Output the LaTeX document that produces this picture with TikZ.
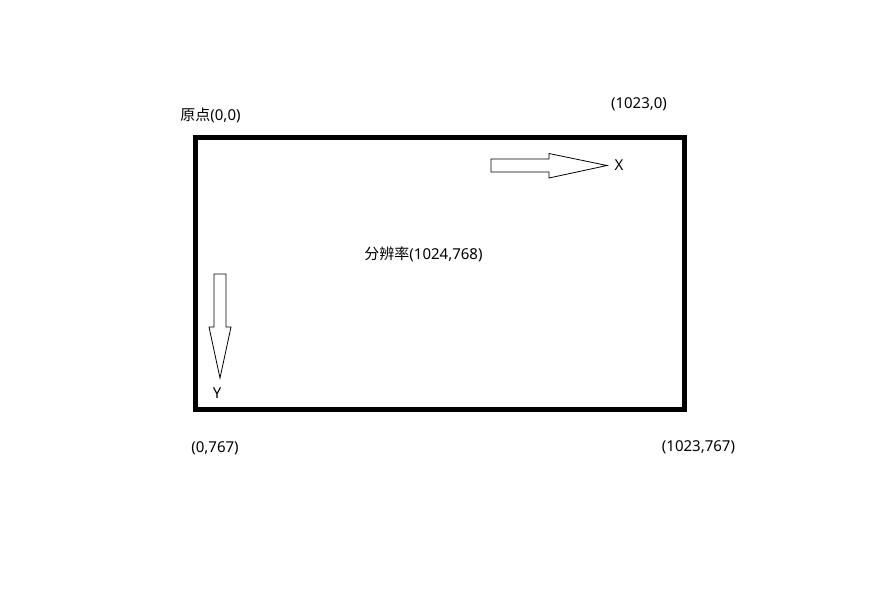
\documentclass[tikz,border=0pt]{standalone}
\usepackage{fontspec}
\setmainfont{Noto Sans}
\newfontfamily\cjk{Noto Sans CJK SC}
\begin{document}
\begin{tikzpicture}[x=1pt,y=-1pt,
  lbl/.style={font=\fontsize{15}{17}\selectfont, inner sep=0pt, text=black},
  hollowarrow/.style={draw=black, line width=0.8pt, fill=white, line join=miter}]
\useasboundingbox (0,0) rectangle (884,611);
\fill[white] (0,0) rectangle (884,611);
\draw[line width=5pt] (195.5,137.5) rectangle (684.5,409.5);
% X arrow
\draw[hollowarrow] (491,159) -- (549,159) -- (549,153.5) -- (607,165.5) -- (549,178) -- (549,172) -- (491,172) -- cycle;
\coordinate (xtip) at (607,165.5);
% Y arrow
\draw[hollowarrow] (214,274) -- (226,274) -- (226,327) -- (231,327) -- (220,378) -- (209,327) -- (214,327) -- cycle;
\coordinate (ytip) at (220,378);
\node[lbl] (X) at (619,165) {X};
\node[lbl] (Y) at (217,393) {Y};
\node[lbl] (origin) at (210.5,115) {{\cjk 原点}(0,0)};
\node[lbl] (tr) at (639,104) {(1023,0)};
\node[lbl] (res) at (423.5,254) {{\cjk 分辨率}(1024,768)};
\node[lbl] (bl) at (215,448) {(0,767)};
\node[lbl] (br) at (698.5,447) {(1023,767)};
\end{tikzpicture}
\end{document}
